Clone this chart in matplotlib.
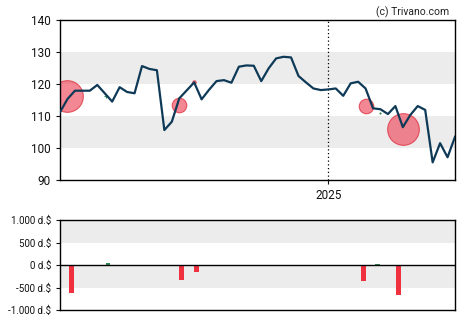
import numpy as np
import pandas as pd
import matplotlib
matplotlib.use("Agg")
import matplotlib.pyplot as plt
import matplotlib.dates as mdates
from matplotlib.ticker import FuncFormatter

# Wochenschlusskurse
kurs_daten = pd.date_range("2024-04-24", periods=54, freq="7D")
kurse = [111.2, 115.3, 117.9, 117.9, 117.9, 119.7, 117.1, 114.5, 119.0, 117.5,
         117.1, 125.6, 124.7, 124.3, 105.6, 108.2, 115.5, 118.0, 120.5, 115.2,
         118.2, 120.9, 121.2, 120.4, 125.4, 125.8, 125.7, 120.9, 124.9, 128.0,
         128.5, 128.3, 122.5, 120.5, 118.6, 118.1, 118.3, 118.6, 116.3, 120.2,
         120.7, 118.6, 112.4, 112.1, 110.6, 113.1, 106.5, 110.3, 113.1, 111.9,
         95.5, 101.5, 97.1, 103.5]

# Insider-Transaktionen (Kreise im Kurschart)
trans_daten = pd.to_datetime(["2024-05-01", "2024-06-06", "2024-08-14", "2024-08-28",
                              "2025-02-05", "2025-02-19", "2025-03-12"])
trans_kurs = [116.3, 116.2, 113.3, 120.5, 113.1, 110.8, 105.8]
trans_groesse = [520, 12, 110, 6, 110, 4, 520]
trans_kauf = [False, True, False, False, False, True, False]

# Volumen der Transaktionen (Balken unten)
bar_daten = pd.to_datetime(["2024-05-05", "2024-06-08", "2024-08-16", "2024-08-30",
                            "2025-02-03", "2025-02-16", "2025-03-08"])
bar_werte = [-615, 45, -327, -150, -350, 20, -660]

fig = plt.figure(figsize=(4.7, 3.25), dpi=100)
plt.rcParams['font.family'] = ['Roboto', 'DejaVu Sans']

ax1 = fig.add_axes([0.1277, 0.4462, 0.8404, 0.4923])
ax2 = fig.add_axes([0.1277, 0.04615, 0.8404, 0.2769])

xmin = kurs_daten[0]
xmax = kurs_daten[-1]

# --- Kurschart ---
for lo, hi in [(100, 110), (120, 130)]:
    ax1.axhspan(lo, hi, color="#ececec", zorder=0, lw=0)

for d, k, s, kauf in zip(trans_daten, trans_kurs, trans_groesse, trans_kauf):
    if kauf:
        ax1.scatter(d, k, s=s, color="#2e8b57", marker="+", lw=0.8, zorder=2)
    else:
        ax1.scatter(d, k, s=s, facecolor="#ee5566", edgecolor="#dd2233",
                    alpha=0.7, lw=0.8, zorder=2)

ax1.plot(kurs_daten, kurse, color="#0f3a57", lw=1.6, zorder=3)
ax1.axvline(pd.Timestamp("2025-01-01"), color="black", ls=(0, (1, 2)), lw=0.9, zorder=1)

ax1.set_xlim(xmin, xmax)
ax1.set_ylim(90, 140)
ax1.set_yticks([90, 100, 110, 120, 130, 140])
ax1.set_xticks([pd.Timestamp("2025-01-01")])
ax1.xaxis.set_major_formatter(mdates.DateFormatter("%Y"))
ax1.tick_params(axis="both", labelsize=8.5, length=3, width=0.8, colors="#111111")
for sp in ax1.spines.values():
    sp.set_linewidth(1.0)

fig.text(0.955, 0.963, "(c) Trivano.com", ha="right", va="center", fontsize=7.5, color="#222222")

# --- Transaktionsvolumen ---
for lo, hi in [(-500, 0), (500, 1000)]:
    ax2.axhspan(lo, hi, color="#ececec", zorder=0, lw=0)

farben = ["#2e8b57" if v > 0 else "#f0303f" for v in bar_werte]
ax2.bar(bar_daten, bar_werte, width=4.4, color=farben, zorder=2)
ax2.axhline(0, color="black", lw=1.0, zorder=3)

ax2.set_xlim(xmin, xmax)
ax2.set_ylim(-1000, 1000)
ax2.set_yticks([-1000, -500, 0, 500, 1000])
ax2.yaxis.set_major_formatter(FuncFormatter(lambda v, p: f"{v:,.0f} d.$".replace(",", ".")))
ax2.set_xticks([])
ax2.tick_params(axis="y", labelsize=7, length=3, width=0.8, colors="#111111")
for sp in ax2.spines.values():
    sp.set_linewidth(1.0)

fig.savefig("out.png", dpi=100)
